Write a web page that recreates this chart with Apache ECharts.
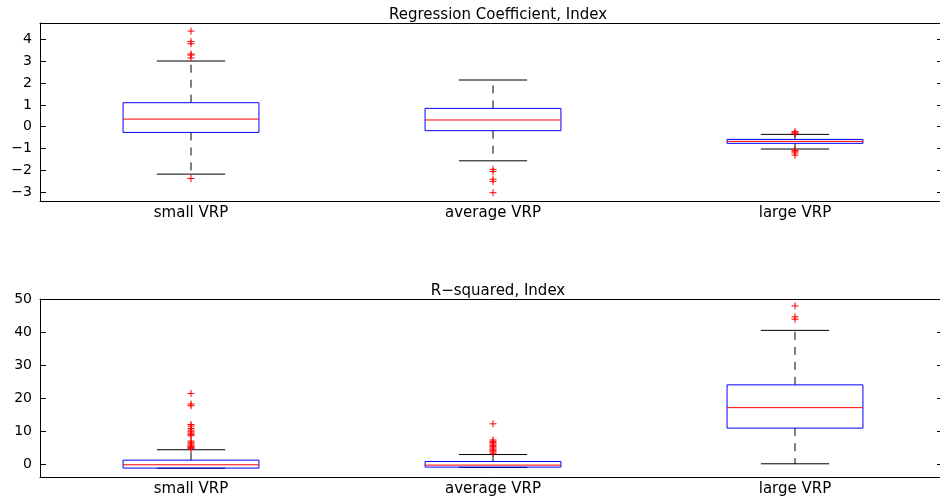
<!DOCTYPE html>
<html>
<head>
<meta charset="utf-8">
<script src="https://cdn.jsdelivr.net/npm/echarts@6/dist/echarts.min.js"></script>
<style>
html, body { margin: 0; padding: 0; background: #fff; }
#chart { width: 940px; height: 499px; }
</style>
</head>
<body>
<div id="chart"></div>
<script>
// 数据
const categories = ['small VRP', 'average VRP', 'large VRP']

// [lower whisker, q1, median, q3, upper whisker]
const coefBoxes = [
  [-2.17, -0.26, 0.35, 1.10, 3.01],
  [-1.56, -0.18, 0.31, 0.84, 2.14],
  [-1.02, -0.76, -0.67, -0.58, -0.35]
]
const coefOutliers = [
  [4.38, 3.9, 3.8, 3.33, 3.28, 3.15, -2.37],
  [-1.95, -2.05, -2.4, -2.5, -3.02],
  [-0.22, -0.28, -0.32, -1.08, -1.12, -1.2, -1.3]
]

const rsqBoxes = [
  [-1.25, -1.2, -0.2, 1.2, 4.35],
  [-1.0, -0.9, -0.3, 0.8, 2.9],
  [0.1, 10.9, 17.1, 24.0, 40.5]
]
const rsqOutliers = [
  [21.4, 18.2, 17.7, 12.0, 11.5, 10.8, 10.3, 9.8, 9.4, 9.0, 8.6, 7.0, 6.5, 6.1, 5.7, 5.3, 5.0, 4.7],
  [12.2, 7.3, 6.9, 6.5, 6.1, 5.7, 5.3, 4.9, 4.5, 4.1, 3.7, 3.3],
  [47.9, 44.6, 43.9]
]

const coefTitle = 'Regression Coefficient, Index'
const rsqTitle = 'R\u2212squared, Index'

const fontFamily = 'DejaVu Sans'

const toBoxData = boxes => boxes.map((b, i) => [i, ...b])
const toOutlierData = lists => {
  const out = []
  lists.forEach((list, i) => list.forEach(v => out.push([i, v])))
  return out
}

// 箱体绘制
const renderBox = (params, api) => {
  const idx = api.value(0)
  const bw = api.size([1, 0])[0]
  const y = v => api.coord([idx, v])[1]
  const cx = api.coord([idx, api.value(3)])[0]
  const half = bw * 0.225
  const cap = bw * 0.113
  const lo = y(api.value(1)), q1 = y(api.value(2)), med = y(api.value(3))
  const q3 = y(api.value(4)), hi = y(api.value(5))
  const black = { stroke: '#000', lineWidth: 1 }
  const dashed = { stroke: '#000', lineWidth: 1, lineDash: [8, 7] }
  return {
    type: 'group',
    children: [
      { type: 'line', shape: { x1: cx, y1: q3, x2: cx, y2: hi }, style: dashed },
      { type: 'line', shape: { x1: cx, y1: q1, x2: cx, y2: lo }, style: dashed },
      { type: 'line', shape: { x1: cx - cap, y1: hi, x2: cx + cap, y2: hi }, style: black },
      { type: 'line', shape: { x1: cx - cap, y1: lo, x2: cx + cap, y2: lo }, style: black },
      { type: 'rect', shape: { x: cx - half, y: q3, width: half * 2, height: q1 - q3 }, style: { fill: 'none', stroke: '#0000ff', lineWidth: 1 } },
      { type: 'line', shape: { x1: cx - half, y1: med, x2: cx + half, y2: med }, style: { stroke: '#ff0000', lineWidth: 1 } }
    ]
  }
}

const renderPlus = (params, api) => {
  const p = api.coord([api.value(0), api.value(1)])
  const s = 3.5
  const st = { stroke: '#ff0000', lineWidth: 1 }
  return {
    type: 'group',
    children: [
      { type: 'line', shape: { x1: p[0] - s, y1: p[1], x2: p[0] + s, y2: p[1] }, style: st },
      { type: 'line', shape: { x1: p[0], y1: p[1] - s, x2: p[0], y2: p[1] + s }, style: st }
    ]
  }
}

const minusFmt = v => {
  if (Math.abs(v - Math.round(v)) > 1e-6) return ''
  return String(Math.round(v)).replace('-', '\u2212')
}

const makeXAxes = gridIndex => [
  {
    gridIndex,
    type: 'category',
    data: categories,
    position: 'bottom',
    axisLine: { onZero: false, lineStyle: { color: '#000', width: 1 } },
    axisTick: { show: false },
    axisLabel: { color: '#000', fontSize: 15, fontFamily, margin: 5 }
  },
  {
    gridIndex,
    type: 'category',
    data: categories,
    position: 'top',
    axisLine: { onZero: false, lineStyle: { color: '#000', width: 1 } },
    axisTick: { show: false },
    axisLabel: { show: false }
  }
]

const makeYAxes = (gridIndex, min, max, splitNumber) => [
  {
    gridIndex,
    type: 'value',
    min,
    max,
    splitNumber,
    position: 'left',
    axisLine: { show: true, lineStyle: { color: '#000', width: 1 } },
    axisTick: { show: true, inside: true, length: 6, lineStyle: { color: '#000' } },
    axisLabel: { color: '#000', fontSize: 14, fontFamily, margin: 8, formatter: minusFmt },
    splitLine: { show: false }
  },
  {
    gridIndex,
    type: 'value',
    min,
    max,
    splitNumber,
    position: 'right',
    axisLine: { show: false },
    axisTick: { show: true, inside: true, length: 9, lineStyle: { color: '#000' } },
    axisLabel: { show: false },
    splitLine: { show: false }
  }
]

const chart = echarts.init(document.getElementById('chart'))

const option = {
  animation: false,
  backgroundColor: '#fff',
  title: [
    { text: coefTitle, left: 493, top: 3, textAlign: 'center', textStyle: { fontSize: 15, fontWeight: 'normal', color: '#000', fontFamily } },
    { text: rsqTitle, left: 493, top: 279, textAlign: 'center', textStyle: { fontSize: 15, fontWeight: 'normal', color: '#000', fontFamily } }
  ],
  grid: [
    { left: 40, width: 906, top: 23, height: 178, outerBoundsMode: 'none', containLabel: false },
    { left: 40, width: 906, top: 299, height: 178, outerBoundsMode: 'none', containLabel: false }
  ],
  xAxis: [...makeXAxes(0), ...makeXAxes(1)],
  yAxis: [...makeYAxes(0, -3.4, 4.75, 8), ...makeYAxes(1, -3.9, 50, 5)],
  series: [
    { type: 'custom', xAxisIndex: 0, yAxisIndex: 0, renderItem: renderBox, data: toBoxData(coefBoxes), encode: { x: 0, y: [1, 2, 3, 4, 5] } },
    { type: 'custom', xAxisIndex: 0, yAxisIndex: 0, renderItem: renderPlus, data: toOutlierData(coefOutliers), encode: { x: 0, y: 1 } },
    { type: 'custom', xAxisIndex: 2, yAxisIndex: 2, renderItem: renderBox, data: toBoxData(rsqBoxes), encode: { x: 0, y: [1, 2, 3, 4, 5] } },
    { type: 'custom', xAxisIndex: 2, yAxisIndex: 2, renderItem: renderPlus, data: toOutlierData(rsqOutliers), encode: { x: 0, y: 1 } }
  ]
}

chart.setOption(option)
</script>
</body>
</html>
